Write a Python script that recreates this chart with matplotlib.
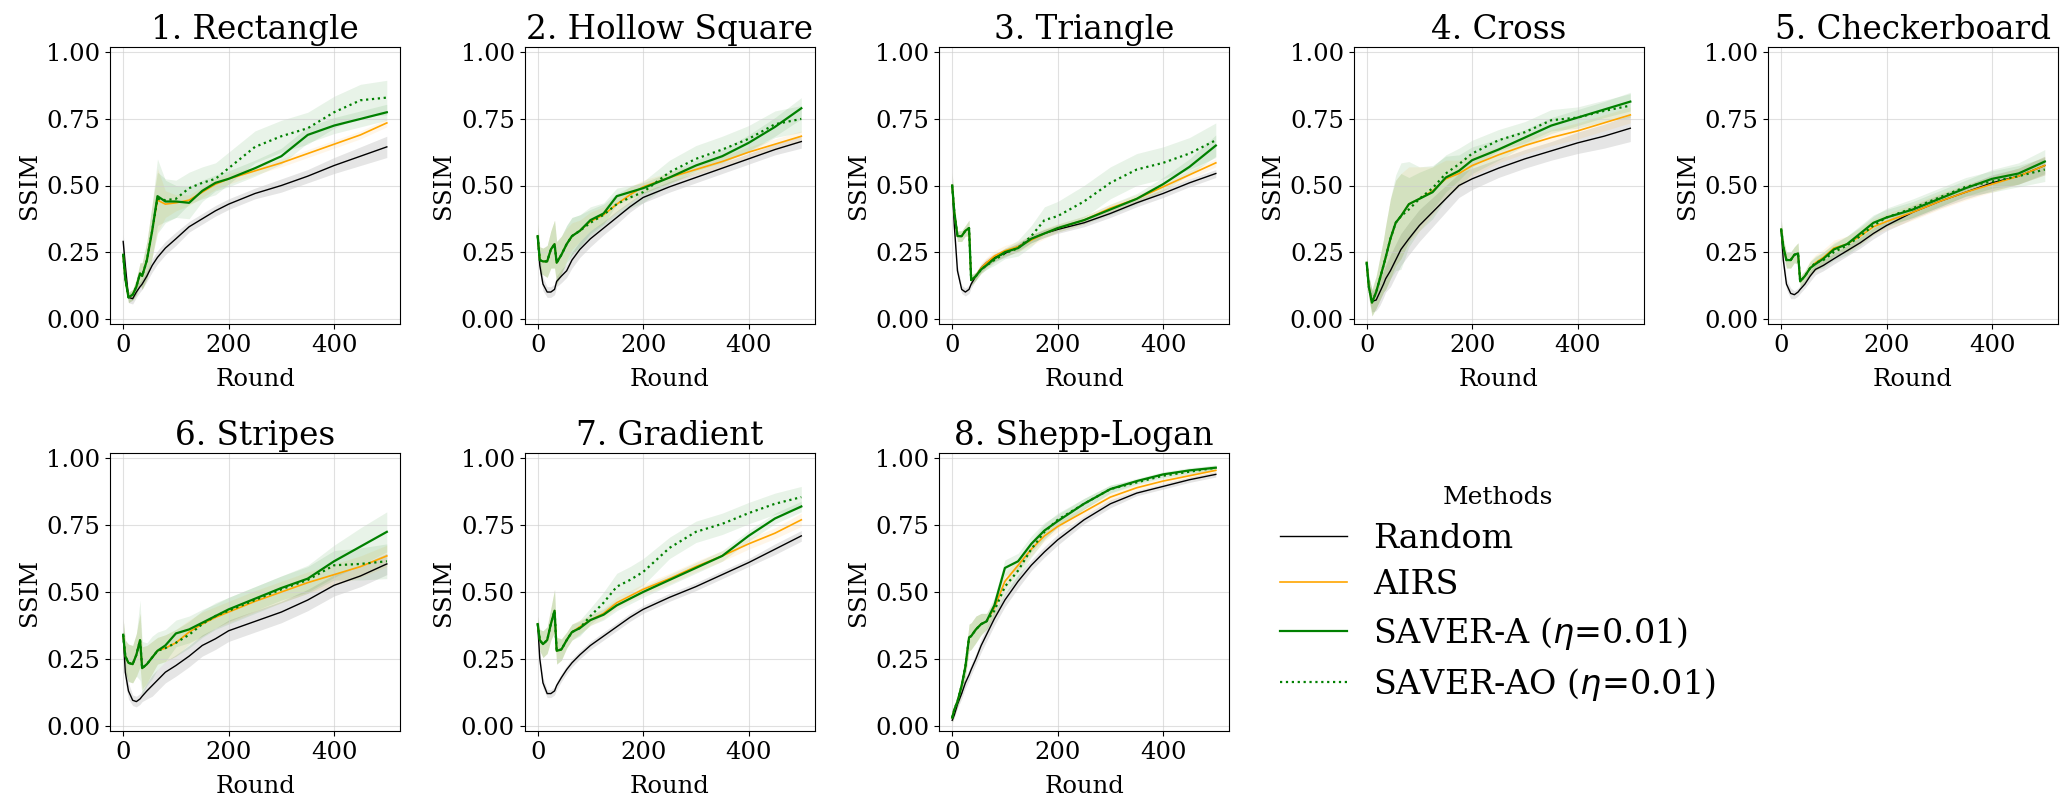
import matplotlib
matplotlib.use("Agg")
import matplotlib.pyplot as plt

plt.rcParams['font.family'] = ['DejaVu Serif']

ROUNDS = [0, 4, 10, 18, 25, 32, 36, 45, 55, 65, 80, 100, 125, 150, 175, 200, 250, 300, 350, 400, 450, 500]

TITLES = ["1. Rectangle", "2. Hollow Square", "3. Triangle", "4. Cross", "5. Checkerboard",
          "6. Stripes", "7. Gradient", "8. Shepp-Logan"]
METHODS = ["Random", "AIRS", r"SAVER-A ($\eta$=0.01)", r"SAVER-AO ($\eta$=0.01)"]

# 1. Rectangle
rect_rand = [0.29, 0.20, 0.08, 0.075, 0.10, 0.12, 0.13, 0.16, 0.20, 0.23, 0.265, 0.30, 0.345, 0.375, 0.405, 0.43, 0.47, 0.50, 0.535, 0.575, 0.61, 0.645]
rect_rand_sd = [0.03, 0.03, 0.02, 0.02, 0.02, 0.02, 0.02, 0.02, 0.025, 0.025, 0.025, 0.025, 0.02, 0.02, 0.02, 0.02, 0.02, 0.025, 0.025, 0.03, 0.035, 0.04]
rect_airs = [0.24, 0.15, 0.08, 0.09, 0.12, 0.17, 0.16, 0.22, 0.33, 0.445, 0.43, 0.435, 0.445, 0.475, 0.505, 0.525, 0.555, 0.585, 0.62, 0.655, 0.69, 0.735]
rect_airs_sd = [0.02, 0.02, 0.02, 0.02, 0.03, 0.04, 0.05, 0.07, 0.10, 0.12, 0.05, 0.03, 0.02, 0.02, 0.02, 0.02, 0.015, 0.015, 0.015, 0.015, 0.015, 0.015]
rect_sa = [0.24, 0.15, 0.08, 0.09, 0.12, 0.17, 0.16, 0.22, 0.33, 0.46, 0.44, 0.44, 0.435, 0.48, 0.51, 0.525, 0.565, 0.61, 0.69, 0.725, 0.75, 0.775]
rect_sa_sd = [0.02, 0.02, 0.02, 0.02, 0.03, 0.04, 0.05, 0.07, 0.10, 0.14, 0.08, 0.06, 0.06, 0.04, 0.03, 0.03, 0.03, 0.03, 0.03, 0.03, 0.03, 0.03]
rect_sao = [0.24, 0.15, 0.08, 0.09, 0.12, 0.17, 0.16, 0.22, 0.33, 0.45, 0.445, 0.45, 0.49, 0.51, 0.525, 0.565, 0.645, 0.685, 0.715, 0.775, 0.82, 0.83]
rect_sao_sd = [0.02, 0.02, 0.02, 0.02, 0.03, 0.04, 0.05, 0.07, 0.10, 0.10, 0.08, 0.07, 0.06, 0.06, 0.06, 0.06, 0.06, 0.06, 0.06, 0.06, 0.06, 0.065]

# 2. Hollow Square
hs_rand = [0.30, 0.20, 0.13, 0.10, 0.10, 0.11, 0.14, 0.16, 0.18, 0.22, 0.26, 0.30, 0.34, 0.38, 0.42, 0.455, 0.495, 0.53, 0.565, 0.60, 0.635, 0.665]
hs_rand_sd = [0.03, 0.03, 0.025, 0.02, 0.02, 0.02, 0.02, 0.025, 0.025, 0.03, 0.03, 0.03, 0.025, 0.025, 0.02, 0.02, 0.02, 0.02, 0.02, 0.02, 0.02, 0.025]
hs_airs = [0.31, 0.22, 0.215, 0.215, 0.26, 0.28, 0.21, 0.24, 0.28, 0.31, 0.33, 0.365, 0.39, 0.43, 0.465, 0.495, 0.53, 0.56, 0.59, 0.625, 0.655, 0.685]
hs_airs_sd = [0.05, 0.05, 0.05, 0.06, 0.07, 0.09, 0.08, 0.07, 0.06, 0.05, 0.04, 0.035, 0.03, 0.03, 0.03, 0.025, 0.02, 0.02, 0.02, 0.02, 0.02, 0.02]
hs_sa = [0.31, 0.22, 0.215, 0.215, 0.26, 0.28, 0.21, 0.24, 0.28, 0.31, 0.33, 0.37, 0.395, 0.46, 0.475, 0.49, 0.53, 0.575, 0.61, 0.66, 0.72, 0.79]
hs_sa_sd = [0.05, 0.05, 0.05, 0.06, 0.07, 0.09, 0.08, 0.07, 0.07, 0.07, 0.06, 0.05, 0.04, 0.03, 0.025, 0.02, 0.02, 0.02, 0.025, 0.03, 0.035, 0.04]
hs_sao = [0.31, 0.22, 0.215, 0.215, 0.26, 0.28, 0.21, 0.24, 0.28, 0.31, 0.33, 0.36, 0.39, 0.43, 0.455, 0.475, 0.55, 0.60, 0.635, 0.675, 0.73, 0.75]
hs_sao_sd = [0.05, 0.05, 0.05, 0.06, 0.07, 0.09, 0.08, 0.07, 0.07, 0.07, 0.06, 0.05, 0.04, 0.04, 0.04, 0.04, 0.045, 0.05, 0.05, 0.05, 0.05, 0.05]

# 3. Triangle
tri_rand = [0.50, 0.35, 0.18, 0.11, 0.10, 0.11, 0.13, 0.16, 0.19, 0.21, 0.23, 0.245, 0.27, 0.30, 0.32, 0.335, 0.36, 0.395, 0.435, 0.47, 0.51, 0.545]
tri_rand_sd = [0.04, 0.03, 0.02, 0.015, 0.015, 0.015, 0.015, 0.015, 0.015, 0.015, 0.015, 0.015, 0.015, 0.015, 0.015, 0.015, 0.015, 0.015, 0.015, 0.015, 0.015, 0.015]
tri_airs = [0.50, 0.40, 0.31, 0.31, 0.33, 0.34, 0.145, 0.16, 0.19, 0.21, 0.235, 0.255, 0.27, 0.295, 0.32, 0.34, 0.37, 0.415, 0.45, 0.495, 0.54, 0.585]
tri_airs_sd = [0.05, 0.03, 0.02, 0.02, 0.02, 0.03, 0.02, 0.015, 0.02, 0.02, 0.02, 0.02, 0.02, 0.02, 0.02, 0.015, 0.015, 0.015, 0.015, 0.015, 0.015, 0.015]
tri_sa = [0.50, 0.40, 0.31, 0.31, 0.33, 0.34, 0.145, 0.16, 0.185, 0.20, 0.225, 0.25, 0.265, 0.30, 0.32, 0.34, 0.37, 0.41, 0.45, 0.505, 0.57, 0.65]
tri_sa_sd = [0.05, 0.03, 0.02, 0.02, 0.02, 0.03, 0.02, 0.015, 0.015, 0.015, 0.015, 0.015, 0.015, 0.015, 0.015, 0.015, 0.015, 0.02, 0.02, 0.025, 0.03, 0.04]
tri_sao = [0.50, 0.40, 0.31, 0.31, 0.33, 0.34, 0.145, 0.16, 0.185, 0.20, 0.22, 0.245, 0.265, 0.31, 0.37, 0.385, 0.44, 0.51, 0.56, 0.585, 0.62, 0.67]
tri_sao_sd = [0.05, 0.03, 0.02, 0.02, 0.02, 0.03, 0.02, 0.015, 0.015, 0.015, 0.02, 0.02, 0.03, 0.04, 0.05, 0.055, 0.06, 0.06, 0.06, 0.06, 0.06, 0.065]

# 4. Cross
cr_rand = [0.21, 0.12, 0.065, 0.07, 0.10, 0.13, 0.15, 0.18, 0.22, 0.26, 0.30, 0.35, 0.40, 0.45, 0.50, 0.525, 0.565, 0.60, 0.63, 0.66, 0.685, 0.715]
cr_rand_sd = [0.04, 0.04, 0.04, 0.04, 0.05, 0.05, 0.05, 0.06, 0.06, 0.06, 0.06, 0.06, 0.055, 0.05, 0.045, 0.04, 0.035, 0.035, 0.035, 0.04, 0.045, 0.05]
cr_airs = [0.21, 0.12, 0.06, 0.10, 0.15, 0.20, 0.23, 0.30, 0.36, 0.385, 0.43, 0.45, 0.48, 0.525, 0.545, 0.575, 0.615, 0.65, 0.68, 0.705, 0.735, 0.765]
cr_airs_sd = [0.03, 0.04, 0.05, 0.06, 0.08, 0.10, 0.12, 0.15, 0.16, 0.16, 0.14, 0.12, 0.09, 0.07, 0.05, 0.04, 0.03, 0.03, 0.03, 0.03, 0.03, 0.03]
cr_sa = [0.21, 0.12, 0.06, 0.10, 0.15, 0.20, 0.23, 0.30, 0.36, 0.385, 0.43, 0.45, 0.475, 0.53, 0.555, 0.595, 0.635, 0.68, 0.725, 0.755, 0.785, 0.815]
cr_sa_sd = [0.03, 0.04, 0.05, 0.06, 0.08, 0.10, 0.12, 0.15, 0.18, 0.20, 0.16, 0.12, 0.10, 0.08, 0.06, 0.05, 0.04, 0.03, 0.03, 0.03, 0.03, 0.035]
cr_sao = [0.21, 0.12, 0.06, 0.10, 0.15, 0.20, 0.23, 0.30, 0.36, 0.385, 0.41, 0.45, 0.49, 0.545, 0.58, 0.62, 0.67, 0.70, 0.745, 0.755, 0.78, 0.80]
cr_sao_sd = [0.03, 0.04, 0.05, 0.06, 0.08, 0.10, 0.12, 0.15, 0.16, 0.16, 0.12, 0.10, 0.08, 0.07, 0.06, 0.05, 0.04, 0.04, 0.04, 0.04, 0.04, 0.045]

# 5. Checkerboard
ch_rand = [0.33, 0.22, 0.13, 0.095, 0.09, 0.10, 0.11, 0.13, 0.16, 0.185, 0.20, 0.225, 0.255, 0.285, 0.32, 0.35, 0.40, 0.44, 0.475, 0.51, 0.535, 0.575]
ch_rand_sd = [0.04, 0.03, 0.02, 0.02, 0.015, 0.015, 0.015, 0.015, 0.02, 0.02, 0.02, 0.02, 0.02, 0.02, 0.02, 0.02, 0.025, 0.025, 0.025, 0.03, 0.03, 0.035]
ch_airs = [0.335, 0.27, 0.22, 0.22, 0.24, 0.245, 0.14, 0.16, 0.19, 0.21, 0.23, 0.265, 0.28, 0.31, 0.345, 0.365, 0.40, 0.44, 0.475, 0.505, 0.535, 0.575]
ch_airs_sd = [0.04, 0.03, 0.03, 0.03, 0.03, 0.04, 0.02, 0.02, 0.03, 0.03, 0.03, 0.03, 0.03, 0.03, 0.03, 0.03, 0.03, 0.03, 0.03, 0.03, 0.03, 0.035]
ch_sa = [0.335, 0.27, 0.22, 0.22, 0.24, 0.245, 0.14, 0.16, 0.19, 0.205, 0.225, 0.26, 0.28, 0.32, 0.36, 0.38, 0.41, 0.45, 0.49, 0.525, 0.545, 0.59]
ch_sa_sd = [0.04, 0.03, 0.03, 0.03, 0.03, 0.04, 0.02, 0.02, 0.025, 0.025, 0.025, 0.025, 0.03, 0.03, 0.03, 0.03, 0.03, 0.03, 0.03, 0.035, 0.04, 0.045]
ch_sao = [0.335, 0.27, 0.22, 0.22, 0.24, 0.245, 0.14, 0.16, 0.19, 0.21, 0.22, 0.25, 0.275, 0.31, 0.35, 0.38, 0.415, 0.455, 0.495, 0.515, 0.535, 0.56]
ch_sao_sd = [0.04, 0.03, 0.03, 0.03, 0.03, 0.04, 0.02, 0.02, 0.025, 0.025, 0.03, 0.03, 0.035, 0.035, 0.035, 0.035, 0.035, 0.035, 0.035, 0.04, 0.04, 0.045]

# 6. Stripes
st_rand = [0.34, 0.20, 0.13, 0.095, 0.09, 0.10, 0.11, 0.13, 0.15, 0.17, 0.20, 0.225, 0.26, 0.30, 0.325, 0.355, 0.39, 0.425, 0.47, 0.525, 0.56, 0.605]
st_rand_sd = [0.05, 0.04, 0.03, 0.02, 0.02, 0.02, 0.02, 0.03, 0.04, 0.04, 0.04, 0.04, 0.04, 0.04, 0.04, 0.04, 0.04, 0.04, 0.04, 0.04, 0.04, 0.04]
st_airs = [0.34, 0.26, 0.235, 0.23, 0.265, 0.32, 0.215, 0.23, 0.255, 0.28, 0.29, 0.31, 0.35, 0.38, 0.405, 0.425, 0.465, 0.50, 0.535, 0.565, 0.595, 0.635]
st_airs_sd = [0.06, 0.06, 0.07, 0.07, 0.08, 0.10, 0.08, 0.07, 0.06, 0.05, 0.05, 0.05, 0.045, 0.045, 0.04, 0.04, 0.04, 0.04, 0.04, 0.04, 0.04, 0.04]
st_sa = [0.34, 0.26, 0.235, 0.23, 0.265, 0.32, 0.215, 0.23, 0.255, 0.28, 0.30, 0.345, 0.36, 0.385, 0.41, 0.435, 0.475, 0.515, 0.55, 0.615, 0.67, 0.725]
st_sa_sd = [0.06, 0.06, 0.07, 0.07, 0.08, 0.15, 0.10, 0.08, 0.08, 0.07, 0.06, 0.05, 0.05, 0.05, 0.045, 0.045, 0.045, 0.045, 0.05, 0.06, 0.07, 0.075]
st_sao = [0.34, 0.26, 0.235, 0.23, 0.265, 0.32, 0.215, 0.23, 0.255, 0.28, 0.29, 0.31, 0.34, 0.38, 0.41, 0.43, 0.47, 0.51, 0.545, 0.60, 0.605, 0.615]
st_sao_sd = [0.06, 0.06, 0.07, 0.07, 0.08, 0.10, 0.08, 0.07, 0.06, 0.05, 0.05, 0.05, 0.05, 0.05, 0.05, 0.05, 0.05, 0.05, 0.05, 0.055, 0.06, 0.065]

# 7. Gradient
gr_rand = [0.38, 0.25, 0.16, 0.12, 0.12, 0.13, 0.15, 0.18, 0.21, 0.235, 0.265, 0.30, 0.335, 0.37, 0.405, 0.435, 0.48, 0.52, 0.565, 0.61, 0.66, 0.71]
gr_rand_sd = [0.03, 0.02, 0.02, 0.015, 0.015, 0.015, 0.015, 0.015, 0.015, 0.015, 0.015, 0.015, 0.015, 0.015, 0.015, 0.015, 0.015, 0.015, 0.015, 0.015, 0.02, 0.02]
gr_airs = [0.38, 0.32, 0.305, 0.32, 0.38, 0.43, 0.28, 0.285, 0.32, 0.35, 0.37, 0.395, 0.42, 0.46, 0.485, 0.51, 0.55, 0.595, 0.635, 0.68, 0.72, 0.77]
gr_airs_sd = [0.03, 0.04, 0.05, 0.05, 0.06, 0.08, 0.05, 0.04, 0.03, 0.03, 0.025, 0.02, 0.02, 0.02, 0.02, 0.02, 0.02, 0.02, 0.02, 0.02, 0.02, 0.025]
gr_sa = [0.38, 0.32, 0.305, 0.32, 0.38, 0.43, 0.28, 0.285, 0.32, 0.35, 0.365, 0.395, 0.415, 0.45, 0.475, 0.50, 0.545, 0.59, 0.635, 0.71, 0.775, 0.82]
gr_sa_sd = [0.03, 0.04, 0.05, 0.05, 0.06, 0.08, 0.05, 0.04, 0.03, 0.03, 0.025, 0.02, 0.02, 0.02, 0.02, 0.02, 0.02, 0.02, 0.02, 0.02, 0.02, 0.02]
gr_sao = [0.38, 0.32, 0.305, 0.32, 0.38, 0.43, 0.28, 0.285, 0.32, 0.35, 0.365, 0.41, 0.46, 0.52, 0.545, 0.575, 0.665, 0.725, 0.755, 0.795, 0.83, 0.855]
gr_sao_sd = [0.03, 0.04, 0.05, 0.05, 0.06, 0.08, 0.05, 0.04, 0.03, 0.03, 0.03, 0.03, 0.04, 0.05, 0.05, 0.05, 0.04, 0.04, 0.04, 0.04, 0.04, 0.04]

# 8. Shepp-Logan
sl_rand = [0.02, 0.04, 0.08, 0.12, 0.16, 0.19, 0.21, 0.25, 0.30, 0.34, 0.40, 0.47, 0.54, 0.60, 0.65, 0.695, 0.77, 0.83, 0.87, 0.895, 0.92, 0.94]
sl_rand_sd = [0.01, 0.01, 0.015, 0.02, 0.02, 0.02, 0.02, 0.02, 0.025, 0.025, 0.025, 0.025, 0.025, 0.02, 0.02, 0.02, 0.015, 0.015, 0.01, 0.01, 0.01, 0.01]
sl_airs = [0.03, 0.06, 0.09, 0.15, 0.22, 0.33, 0.335, 0.36, 0.38, 0.39, 0.44, 0.54, 0.60, 0.66, 0.71, 0.745, 0.80, 0.855, 0.89, 0.915, 0.935, 0.955]
sl_airs_sd = [0.02, 0.02, 0.02, 0.03, 0.04, 0.05, 0.05, 0.05, 0.04, 0.03, 0.03, 0.03, 0.025, 0.025, 0.02, 0.02, 0.015, 0.015, 0.01, 0.01, 0.01, 0.01]
sl_sa = [0.03, 0.06, 0.09, 0.15, 0.22, 0.33, 0.335, 0.36, 0.38, 0.39, 0.45, 0.59, 0.615, 0.68, 0.73, 0.765, 0.83, 0.885, 0.915, 0.94, 0.955, 0.965]
sl_sa_sd = [0.02, 0.02, 0.02, 0.03, 0.04, 0.05, 0.05, 0.05, 0.04, 0.03, 0.03, 0.03, 0.03, 0.03, 0.03, 0.025, 0.02, 0.015, 0.01, 0.01, 0.01, 0.01]
sl_sao = [0.03, 0.06, 0.09, 0.15, 0.22, 0.33, 0.335, 0.36, 0.38, 0.39, 0.43, 0.52, 0.58, 0.66, 0.725, 0.77, 0.83, 0.885, 0.91, 0.935, 0.95, 0.965]
sl_sao_sd = [0.02, 0.02, 0.02, 0.03, 0.04, 0.05, 0.05, 0.05, 0.04, 0.03, 0.03, 0.03, 0.03, 0.03, 0.03, 0.025, 0.02, 0.015, 0.01, 0.01, 0.01, 0.01]

PANELS = [
    [(rect_rand, rect_rand_sd), (rect_airs, rect_airs_sd), (rect_sa, rect_sa_sd), (rect_sao, rect_sao_sd)],
    [(hs_rand, hs_rand_sd), (hs_airs, hs_airs_sd), (hs_sa, hs_sa_sd), (hs_sao, hs_sao_sd)],
    [(tri_rand, tri_rand_sd), (tri_airs, tri_airs_sd), (tri_sa, tri_sa_sd), (tri_sao, tri_sao_sd)],
    [(cr_rand, cr_rand_sd), (cr_airs, cr_airs_sd), (cr_sa, cr_sa_sd), (cr_sao, cr_sao_sd)],
    [(ch_rand, ch_rand_sd), (ch_airs, ch_airs_sd), (ch_sa, ch_sa_sd), (ch_sao, ch_sao_sd)],
    [(st_rand, st_rand_sd), (st_airs, st_airs_sd), (st_sa, st_sa_sd), (st_sao, st_sao_sd)],
    [(gr_rand, gr_rand_sd), (gr_airs, gr_airs_sd), (gr_sa, gr_sa_sd), (gr_sao, gr_sao_sd)],
    [(sl_rand, sl_rand_sd), (sl_airs, sl_airs_sd), (sl_sa, sl_sa_sd), (sl_sao, sl_sao_sd)],
]

STYLES = [
    dict(color="black", lw=1.0, ls="-"),
    dict(color="orange", lw=1.2, ls="-"),
    dict(color="green", lw=1.6, ls="-"),
    dict(color="green", lw=1.6, ls=":"),
]
FILL_ALPHA = [0.1, 0.09, 0.09, 0.09]


def main():
    fig = plt.figure(figsize=(20.7, 8.1), dpi=100)
    W, H = 2070.0, 810.0
    handles = []
    for i, (title, series) in enumerate(zip(TITLES, PANELS)):
        row, col = divmod(i, 5)
        left = (110 + 414.5 * col) / W
        if row == 0:
            bottom, height = 1 - 324 / H, 277 / H
        else:
            bottom, height = 1 - 731 / H, 278 / H
        ax = fig.add_axes([left, bottom, 290 / W, height])

        # shaded bands first, then the mean curves on top
        for (mean, sd), style, a in zip(series, STYLES, FILL_ALPHA):
            lo = [m - s for m, s in zip(mean, sd)]
            hi = [m + s for m, s in zip(mean, sd)]
            ax.fill_between(ROUNDS, lo, hi, color=style["color"], alpha=a, lw=0)
        lines = []
        for (mean, sd), style, name in zip(series, STYLES, METHODS):
            ln, = ax.plot(ROUNDS, mean, color=style["color"], lw=style["lw"],
                          ls=style["ls"], label=name)
            lines.append(ln)
        if i == 0:
            handles = lines

        ax.set_ylim(-0.02, 1.02)
        ax.set_yticks([0, 0.25, 0.5, 0.75, 1.0])
        ax.set_xticks([0, 200, 400])
        ax.grid(True, color="#cccccc", alpha=0.6, lw=0.8)
        ax.tick_params(labelsize=17.5)
        ax.set_title(title, fontsize=23.5)
        ax.set_xlabel("Round", fontsize=17.5, labelpad=8)
        ax.set_ylabel("SSIM", fontsize=17.5)

    fig.legend(handles, METHODS, loc="center", bbox_to_anchor=(0.7237, 0.266),
               frameon=False, fontsize=24, title="Methods", title_fontsize=18,
               labelspacing=0.42)

    fig.savefig("out.png", dpi=100)
    plt.close(fig)


if __name__ == "__main__":
    main()
